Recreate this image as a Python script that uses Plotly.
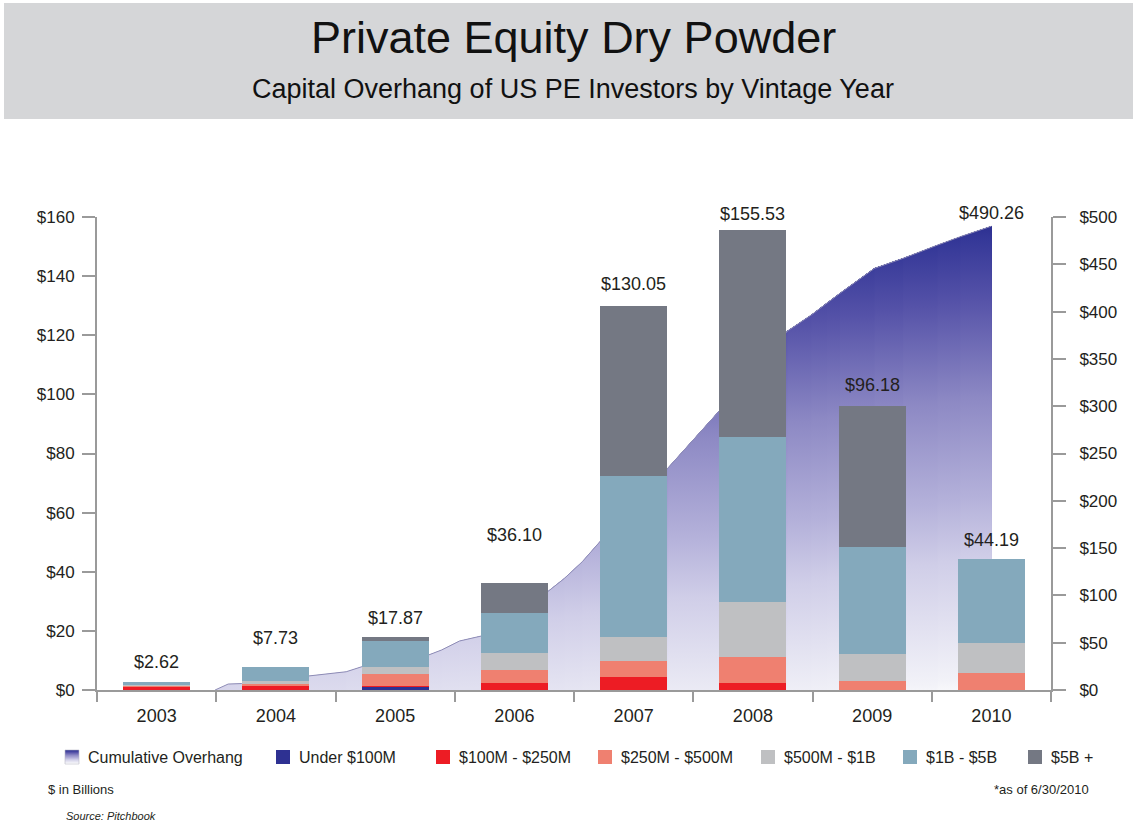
import plotly.graph_objects as go

# ---- data -------------------------------------------------------------
years = ["2003", "2004", "2005", "2006", "2007", "2008", "2009", "2010"]

under_100m = [0.00, 0.00, 1.20, 0.00, 0.00, 0.00, 0.00, 0.00]
m100_250 = [1.30, 1.40, 0.30, 2.30, 4.30, 2.50, 0.00, 0.00]
m250_500 = [0.15, 0.60, 3.80, 4.50, 5.60, 8.55, 3.20, 5.80]
m500_1b = [0.15, 1.20, 2.60, 5.60, 8.10, 18.75, 9.00, 10.20]
b1_5 = [1.02, 4.53, 8.60, 13.80, 54.40, 55.70, 36.10, 28.19]
b5_plus = [0.00, 0.00, 1.37, 9.90, 57.65, 70.03, 47.88, 0.00]

# cumulative overhang ($B), position along the vintage-year axis
cum_x = [0.49, 0.60, 0.71, 1.28, 1.59, 1.72, 2.28, 2.39, 2.54, 2.72,
         3.28, 3.42, 3.57, 3.73, 4.29, 4.74, 5.29, 5.49, 5.62, 5.73,
         6.02, 6.26, 6.55, 6.74, 7.00]
cum_y = [0.0, 6.3, 6.8, 15.1, 19.3, 24.6, 37.0, 42.3, 51.8, 57.0,
         104.0, 118.0, 135.7, 158.6, 235.0, 298.0, 379.5, 396.4, 409.0, 419.3,
         445.7, 456.3, 470.4, 479.2, 490.26]

left_ticks = [0, 20, 40, 60, 80, 100, 120, 140, 160]
right_ticks = [0, 50, 100, 150, 200, 250, 300, 350, 400, 450, 500]

series = [
    ("Under $100M", under_100m, "#2e3192"),
    ("$100M - $250M", m100_250, "#ed1c24"),
    ("$250M - $500M", m250_500, "#ef8070"),
    ("$500M - $1B", m500_1b, "#bfc0c2"),
    ("$1B - $5B", b1_5, "#84a9bc"),
    ("$5B +", b5_plus, "#747883"),
]

# ---- page geometry (pixels) -------------------------------------------
W, H = 1133, 825
L, R, T, B = 97, 82, 217, 135
PW, PH = W - L - R, H - T - B


def px(x):
    return (x - L) / PW


def py(y):
    return (H - B - y) / PH


FONT = "Liberation Sans, Arial, sans-serif"
AXIS = "#9a9a9a"
TEXT = "#231f20"

fig = go.Figure()

# ---- cumulative overhang: tilted gradient built from overlapping strips ----
ramp = [
    [0.00, "#ffffff"], [0.05, "#f2f2f8"], [0.30, "#d0cee8"], [0.43, "#b4b1da"],
    [0.64, "#8d89c4"], [0.85, "#5552a8"], [0.975, "#353898"], [1.00, "#2e3192"],
]


def tilt(i):
    # gradient offset (in $B) that leans the colour bands toward the left
    return 132.4 - 17.65 * i


for k in range(len(cum_x) - 1):
    mid = 0.5 * (cum_x[k] + cum_x[k + 1])
    off = tilt(mid)
    fig.add_trace(go.Scatter(
        x=cum_x[k:], y=cum_y[k:], mode="lines", fill="tozeroy",
        line=dict(width=0, color="rgba(0,0,0,0)"),
        fillgradient=dict(type="vertical", colorscale=ramp,
                          start=-off, stop=500 - off),
        xaxis="x", yaxis="y", showlegend=False, hoverinfo="skip",
    ))

fig.add_trace(go.Scatter(
    x=cum_x, y=cum_y, mode="lines", line=dict(color="#8e8cb6", width=1),
    xaxis="x", yaxis="y", showlegend=False, name="Cumulative Overhang",
))

# ---- stacked bars ------------------------------------------------------
xs = list(range(len(years)))
for name, vals, col in series:
    fig.add_trace(go.Bar(
        x=xs, y=vals, name=name, marker=dict(color=col, line=dict(width=0)),
        width=0.56, xaxis="x", yaxis="y2", showlegend=False,
    ))

annotations = []

# totals above bars
totals = [round(sum(v[j] for _, v, _ in series), 2) for j in xs]
label_lift = [20, 29, 19, 48, 22, 16, 21, 19]
for j, tot in enumerate(totals):
    annotations.append(dict(
        x=j, y=tot, xref="x", yref="y2", text=f"${tot:.2f}", showarrow=False,
        yanchor="middle", yshift=label_lift[j],
        font=dict(family=FONT, size=18, color=TEXT),
    ))

annotations.append(dict(
    x=cum_x[-1], y=cum_y[-1], xref="x", yref="y", text=f"${cum_y[-1]:.2f}",
    showarrow=False, yanchor="middle", yshift=13,
    font=dict(family=FONT, size=18, color=TEXT),
))

shapes = []


def page_text(x, y, text, size, anchor="center", color=TEXT):
    annotations.append(dict(x=px(x), y=py(y), xref="paper", yref="paper",
                            xanchor=anchor, yanchor="middle", text=text,
                            showarrow=False,
                            font=dict(family=FONT, size=size, color=color)))


# header band
shapes.append(dict(type="rect", xref="paper", yref="paper",
                   x0=px(4), x1=px(1133), y0=py(3), y1=py(119),
                   fillcolor="#d5d6d8", line=dict(width=0), layer="below"))
page_text(573, 38, "Private Equity Dry Powder", 45, color="#111111")
page_text(573, 89, "Capital Overhang of US PE Investors by Vintage Year", 27,
          color="#111111")

# legend row
legend_text_x = [86, 297, 457, 619, 782, 924, 1049]
ly, sq = 757, 14
# gradient swatch for the cumulative series
steps = 14
for s in range(steps):
    frac = 1 - s / (steps - 1)
    for a, b in zip(ramp[:-1], ramp[1:]):
        if a[0] <= frac <= b[0]:
            t = (frac - a[0]) / (b[0] - a[0]) if b[0] > a[0] else 0
            ca = [int(a[1][i:i + 2], 16) for i in (1, 3, 5)]
            cb = [int(b[1][i:i + 2], 16) for i in (1, 3, 5)]
            c = [round(ca[q] + (cb[q] - ca[q]) * t) for q in range(3)]
            break
    y0 = ly - sq / 2 + s * sq / steps
    shapes.append(dict(type="rect", xref="paper", yref="paper",
                       x0=px(legend_text_x[0] - 7 - sq), x1=px(legend_text_x[0] - 7),
                       y0=py(y0 + sq / steps), y1=py(y0),
                       fillcolor=f"rgb({c[0]},{c[1]},{c[2]})", line=dict(width=0)))
shapes.append(dict(type="rect", xref="paper", yref="paper",
                   x0=px(legend_text_x[0] - 7 - sq), x1=px(legend_text_x[0] - 7),
                   y0=py(ly + sq / 2), y1=py(ly - sq / 2),
                   line=dict(width=0.6, color="#b8b8c8")))
page_text(legend_text_x[0], ly, "Cumulative Overhang", 16, anchor="left")
for (name, _, col), tx in zip(series, legend_text_x[1:]):
    shapes.append(dict(type="rect", xref="paper", yref="paper",
                       x0=px(tx - 7 - sq), x1=px(tx - 7),
                       y0=py(ly + sq / 2), y1=py(ly - sq / 2),
                       fillcolor=col, line=dict(width=0)))
    page_text(tx, ly, name, 16, anchor="left")

# footnotes
page_text(46, 789, "$ in Billions", 13, anchor="left")
page_text(1091, 789, "*as of 6/30/2010", 13, anchor="right")
page_text(64, 816, "<i>Source: Pitchbook</i>", 11, anchor="left")

axis_common = dict(showline=True, linecolor=AXIS, linewidth=2, ticks="outside",
                   ticklen=13, tickwidth=2, tickcolor=AXIS, showgrid=False,
                   zeroline=False, fixedrange=True)

fig.update_layout(
    width=W, height=H, margin=dict(l=L, r=R, t=T, b=B),
    paper_bgcolor="white", plot_bgcolor="rgba(0,0,0,0)",
    barmode="stack", bargap=0.44, showlegend=False,
    xaxis=dict(range=[-0.5, 7.5], tickmode="array", tickvals=xs, ticktext=years,
               showline=True, linecolor=AXIS, linewidth=2, ticks="",
               showgrid=False, zeroline=False, ticklabelstandoff=8,
               tickfont=dict(family=FONT, size=18, color=TEXT),
               minor=dict(tickmode="array", tickvals=[v - 0.5 for v in range(9)],
                          ticks="outside", ticklen=10, tickwidth=2, tickcolor=AXIS)),
    yaxis=dict(range=[0, 500], side="right", tickmode="array", tickvals=right_ticks,
               ticktext=[f"${v}" for v in right_ticks], ticklabelstandoff=10,
               tickfont=dict(family=FONT, size=17, color=TEXT), **axis_common),
    yaxis2=dict(range=[0, 160], side="left", overlaying="y", tickmode="array",
                tickvals=left_ticks, ticktext=[f"${v}" for v in left_ticks],
                ticklabelstandoff=4,
                tickfont=dict(family=FONT, size=17, color=TEXT), **axis_common),
    shapes=shapes, annotations=annotations,
)

fig.write_html("out.html")
